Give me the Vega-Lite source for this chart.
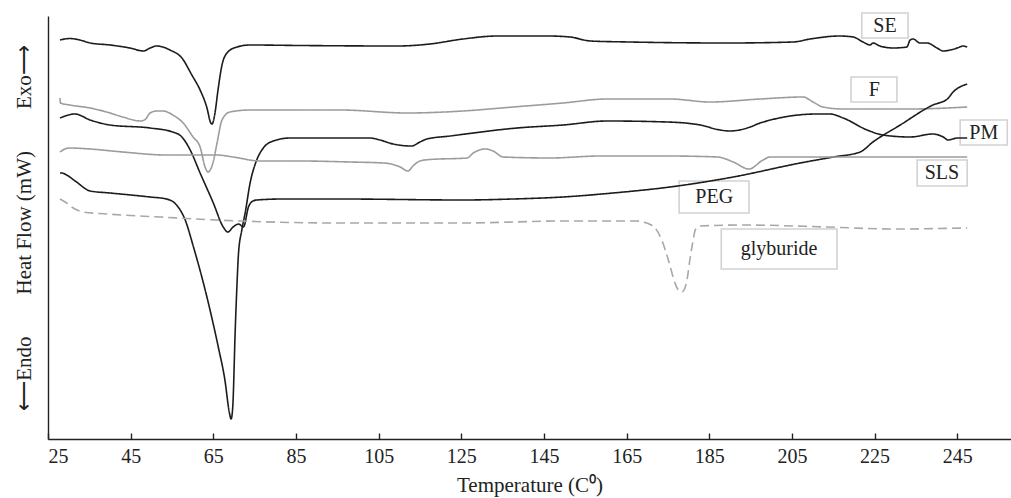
{
  "$schema": "https://vega.github.io/schema/vega-lite/v6.json",
  "width": 963,
  "height": 423,
  "autosize": "none",
  "padding": {"left": 48, "top": 16, "right": 0, "bottom": 59},
  "background": "white",
  "config": {"view": {"stroke": null}, "font": "Liberation Serif"},
  "datasets": {
    "curves": [
      {"s":"SE","t":27.9,"h":39.9},{"s":"SE","t":30.3,"h":40.05},{"s":"SE","t":32.7,"h":39.9},{"s":"SE","t":35.2,"h":39.6},{"s":"SE","t":40.0,"h":39.4},{"s":"SE","t":44.8,"h":39.1},{"s":"SE","t":48.1,"h":38.8},{"s":"SE","t":49.7,"h":39.1},{"s":"SE","t":51.3,"h":39.3},{"s":"SE","t":52.8,"h":39.2},{"s":"SE","t":54.5,"h":38.9},{"s":"SE","t":57.4,"h":38.1},{"s":"SE","t":59.8,"h":36.4},{"s":"SE","t":61.8,"h":34.9},{"s":"SE","t":63.4,"h":33.2},{"s":"SE","t":64.4,"h":31.6},{"s":"SE","t":64.7,"h":31.5},{"s":"SE","t":65.4,"h":32.6},{"s":"SE","t":66.1,"h":34.8},{"s":"SE","t":67.1,"h":37.4},{"s":"SE","t":68.3,"h":38.6},{"s":"SE","t":70.7,"h":39.2},{"s":"SE","t":73.9,"h":39.4},{"s":"SE","t":86.0,"h":39.35},{"s":"SE","t":109.5,"h":39.3},{"s":"SE","t":117.4,"h":39.5},{"s":"SE","t":125.4,"h":40.0},{"s":"SE","t":133.7,"h":40.3},{"s":"SE","t":145.8,"h":40.3},{"s":"SE","t":151.3,"h":40.2},{"s":"SE","t":156.2,"h":39.8},{"s":"SE","t":165.8,"h":39.7},{"s":"SE","t":189.3,"h":39.6},{"s":"SE","t":205.3,"h":39.7},{"s":"SE","t":209.4,"h":40.0},{"s":"SE","t":216.6,"h":40.3},{"s":"SE","t":219.8,"h":40.2},{"s":"SE","t":222.2,"h":39.7},{"s":"SE","t":223.9,"h":39.4},{"s":"SE","t":224.6,"h":39.6},{"s":"SE","t":226.3,"h":39.3},{"s":"SE","t":229.5,"h":39.1},{"s":"SE","t":232.8,"h":39.2},{"s":"SE","t":233.6,"h":39.9},{"s":"SE","t":234.3,"h":40.0},{"s":"SE","t":236.0,"h":39.6},{"s":"SE","t":237.7,"h":39.6},{"s":"SE","t":240.1,"h":39.1},{"s":"SE","t":241.6,"h":38.8},{"s":"SE","t":243.3,"h":38.9},{"s":"SE","t":245.0,"h":39.1},{"s":"SE","t":246.4,"h":39.3},{"s":"SE","t":247.4,"h":39.2},

      {"s":"F","t":27.9,"h":34.1},{"s":"F","t":28.0,"h":33.6},{"s":"F","t":30.3,"h":33.4},{"s":"F","t":35.2,"h":33.1},{"s":"F","t":39.2,"h":32.7},{"s":"F","t":43.1,"h":32.2},{"s":"F","t":47.3,"h":31.8},{"s":"F","t":48.0,"h":31.85},{"s":"F","t":48.5,"h":31.95},{"s":"F","t":49.7,"h":32.6},{"s":"F","t":51.3,"h":32.8},{"s":"F","t":52.8,"h":32.8},{"s":"F","t":55.2,"h":32.4},{"s":"F","t":57.7,"h":31.6},{"s":"F","t":60.1,"h":30.2},{"s":"F","t":61.8,"h":29.2},{"s":"F","t":63.0,"h":27.2},{"s":"F","t":63.7,"h":26.7},{"s":"F","t":64.9,"h":27.6},{"s":"F","t":65.9,"h":29.6},{"s":"F","t":67.1,"h":31.9},{"s":"F","t":69.0,"h":32.7},{"s":"F","t":73.9,"h":32.9},{"s":"F","t":95.7,"h":32.9},{"s":"F","t":111.9,"h":32.6},{"s":"F","t":125.4,"h":32.8},{"s":"F","t":137.5,"h":33.2},{"s":"F","t":149.6,"h":33.6},{"s":"F","t":160.3,"h":34.0},{"s":"F","t":170.0,"h":34.0},{"s":"F","t":175.5,"h":34.0},{"s":"F","t":185.2,"h":33.7},{"s":"F","t":197.3,"h":34.0},{"s":"F","t":207.7,"h":34.2},{"s":"F","t":210.1,"h":33.7},{"s":"F","t":212.5,"h":33.2},{"s":"F","t":217.4,"h":33.0},{"s":"F","t":233.6,"h":33.0},{"s":"F","t":247.4,"h":33.2},

      {"s":"PEG","t":27.9,"h":32.1},{"s":"PEG","t":31.5,"h":32.5},{"s":"PEG","t":35.2,"h":31.9},{"s":"PEG","t":40.0,"h":31.4},{"s":"PEG","t":49.7,"h":31.1},{"s":"PEG","t":55.2,"h":30.7},{"s":"PEG","t":57.4,"h":30.2},{"s":"PEG","t":59.4,"h":28.9},{"s":"PEG","t":61.8,"h":26.6},{"s":"PEG","t":65.0,"h":23.6},{"s":"PEG","t":67.4,"h":21.2},{"s":"PEG","t":68.5,"h":20.7},{"s":"PEG","t":69.8,"h":21.2},{"s":"PEG","t":71.1,"h":21.5},{"s":"PEG","t":72.3,"h":21.2},{"s":"PEG","t":73.5,"h":23.2},{"s":"PEG","t":74.6,"h":23.8},{"s":"PEG","t":75.5,"h":23.9},{"s":"PEG","t":81.9,"h":24.0},{"s":"PEG","t":95.7,"h":24.0},{"s":"PEG","t":125.4,"h":23.9},{"s":"PEG","t":137.5,"h":24.0},{"s":"PEG","t":149.6,"h":24.2},{"s":"PEG","t":161.7,"h":24.6},{"s":"PEG","t":175.5,"h":25.2},{"s":"PEG","t":190.8,"h":26.2},{"s":"PEG","t":207.0,"h":27.6},{"s":"PEG","t":215.0,"h":28.2},{"s":"PEG","t":221.5,"h":28.7},{"s":"PEG","t":224.6,"h":29.7},{"s":"PEG","t":231.2,"h":31.4},{"s":"PEG","t":239.1,"h":33.4},{"s":"PEG","t":242.6,"h":34.0},{"s":"PEG","t":244.0,"h":34.7},{"s":"PEG","t":247.4,"h":35.5},

      {"s":"PM","t":27.9,"h":26.6},{"s":"PM","t":28.3,"h":26.6},{"s":"PM","t":29.5,"h":26.4},{"s":"PM","t":31.9,"h":25.7},{"s":"PM","t":35.2,"h":24.8},{"s":"PM","t":40.0,"h":24.6},{"s":"PM","t":49.7,"h":24.2},{"s":"PM","t":53.7,"h":24.0},{"s":"PM","t":56.1,"h":23.4},{"s":"PM","t":58.2,"h":21.9},{"s":"PM","t":60.2,"h":19.2},{"s":"PM","t":62.6,"h":15.6},{"s":"PM","t":64.6,"h":12.2},{"s":"PM","t":66.2,"h":9.2},{"s":"PM","t":67.8,"h":5.9},{"s":"PM","t":68.9,"h":2.6},{"s":"PM","t":69.3,"h":2.0},{"s":"PM","t":69.7,"h":3.2},{"s":"PM","t":70.3,"h":10.9},{"s":"PM","t":70.7,"h":15.2},{"s":"PM","t":71.1,"h":18.6},{"s":"PM","t":71.9,"h":20.9},{"s":"PM","t":72.7,"h":22.6},{"s":"PM","t":73.9,"h":25.6},{"s":"PM","t":75.5,"h":27.9},{"s":"PM","t":77.1,"h":29.1},{"s":"PM","t":79.5,"h":29.8},{"s":"PM","t":83.6,"h":30.1},{"s":"PM","t":93.2,"h":30.1},{"s":"PM","t":102.9,"h":30.1},{"s":"PM","t":105.3,"h":29.9},{"s":"PM","t":108.5,"h":29.5},{"s":"PM","t":113.0,"h":29.3},{"s":"PM","t":115.0,"h":29.7},{"s":"PM","t":116.7,"h":30.0},{"s":"PM","t":122.3,"h":30.3},{"s":"PM","t":138.5,"h":31.1},{"s":"PM","t":149.6,"h":31.4},{"s":"PM","t":160.3,"h":31.8},{"s":"PM","t":174.8,"h":31.7},{"s":"PM","t":182.8,"h":31.4},{"s":"PM","t":187.6,"h":30.9},{"s":"PM","t":190.0,"h":30.8},{"s":"PM","t":194.9,"h":31.2},{"s":"PM","t":197.3,"h":31.6},{"s":"PM","t":211.1,"h":32.5},{"s":"PM","t":214.2,"h":32.5},{"s":"PM","t":217.4,"h":32.1},{"s":"PM","t":223.2,"h":30.9},{"s":"PM","t":227.0,"h":30.4},{"s":"PM","t":233.6,"h":30.2},{"s":"PM","t":239.1,"h":30.5},{"s":"PM","t":241.6,"h":30.2},{"s":"PM","t":242.8,"h":29.9},{"s":"PM","t":245.0,"h":30.1},{"s":"PM","t":247.4,"h":30.1},

      {"s":"SLS","t":27.9,"h":28.7},{"s":"SLS","t":28.6,"h":28.9},{"s":"SLS","t":30.3,"h":29.1},{"s":"SLS","t":35.2,"h":29.0},{"s":"SLS","t":43.1,"h":28.7},{"s":"SLS","t":53.7,"h":28.4},{"s":"SLS","t":65.8,"h":28.4},{"s":"SLS","t":69.8,"h":28.2},{"s":"SLS","t":76.3,"h":27.8},{"s":"SLS","t":86.0,"h":27.8},{"s":"SLS","t":98.1,"h":27.7},{"s":"SLS","t":106.1,"h":27.6},{"s":"SLS","t":108.5,"h":27.45},{"s":"SLS","t":110.2,"h":27.2},{"s":"SLS","t":112.1,"h":26.8},{"s":"SLS","t":113.3,"h":27.3},{"s":"SLS","t":115.0,"h":27.8},{"s":"SLS","t":117.4,"h":27.95},{"s":"SLS","t":126.4,"h":28.1},{"s":"SLS","t":127.9,"h":28.6},{"s":"SLS","t":128.8,"h":28.8},{"s":"SLS","t":130.8,"h":29.0},{"s":"SLS","t":132.7,"h":28.8},{"s":"SLS","t":135.1,"h":28.2},{"s":"SLS","t":146.5,"h":28.1},{"s":"SLS","t":158.6,"h":28.3},{"s":"SLS","t":174.8,"h":28.3},{"s":"SLS","t":186.9,"h":28.2},{"s":"SLS","t":190.8,"h":27.7},{"s":"SLS","t":194.6,"h":27.0},{"s":"SLS","t":198.0,"h":27.9},{"s":"SLS","t":199.7,"h":28.2},{"s":"SLS","t":207.0,"h":28.2},{"s":"SLS","t":247.4,"h":28.2},

      {"s":"glyburide","t":27.9,"h":24.0},{"s":"glyburide","t":29.5,"h":23.6},{"s":"glyburide","t":31.1,"h":23.1},{"s":"glyburide","t":33.5,"h":22.7},{"s":"glyburide","t":39.2,"h":22.5},{"s":"glyburide","t":52.1,"h":22.2},{"s":"glyburide","t":71.5,"h":21.8},{"s":"glyburide","t":95.7,"h":21.6},{"s":"glyburide","t":125.4,"h":21.6},{"s":"glyburide","t":149.6,"h":21.8},{"s":"glyburide","t":167.5,"h":21.8},{"s":"glyburide","t":169.0,"h":21.7},{"s":"glyburide","t":170.7,"h":21.45},{"s":"glyburide","t":171.9,"h":21.1},{"s":"glyburide","t":173.5,"h":19.9},{"s":"glyburide","t":175.1,"h":17.9},{"s":"glyburide","t":176.7,"h":15.6},{"s":"glyburide","t":177.5,"h":14.9},{"s":"glyburide","t":178.4,"h":14.7},{"s":"glyburide","t":179.1,"h":15.1},{"s":"glyburide","t":179.6,"h":15.9},{"s":"glyburide","t":180.4,"h":18.2},{"s":"glyburide","t":181.1,"h":19.9},{"s":"glyburide","t":181.6,"h":20.9},{"s":"glyburide","t":182.8,"h":21.3},{"s":"glyburide","t":193.2,"h":21.4},{"s":"glyburide","t":213.5,"h":21.2},{"s":"glyburide","t":229.5,"h":21.0},{"s":"glyburide","t":247.4,"h":21.1}
    ],
    "labels": [
      {"label":"SE","t":227.5,"h":41.3,"t1":221.9,"t2":233.1,"h1":40.1,"h2":42.6},
      {"label":"F","t":224.9,"h":34.95,"t1":219.3,"t2":230.4,"h1":33.7,"h2":36.2},
      {"label":"PM","t":251.4,"h":30.65,"t1":245.7,"t2":257.1,"h1":29.4,"h2":31.9},
      {"label":"SLS","t":241.3,"h":26.6,"t1":235.3,"t2":247.4,"h1":25.3,"h2":27.9},
      {"label":"PEG","t":186.2,"h":24.2,"t1":177.7,"t2":194.6,"h1":22.6,"h2":25.8},
      {"label":"glyburide","t":201.9,"h":19.0,"t1":187.9,"t2":215.9,"h1":17.0,"h2":21.0}
    ]
  },
  "layer": [
    {
      "data": {"name": "labels"},
      "mark": {"type": "rect", "fill": null, "stroke": "#d2d2d2", "strokeWidth": 1.6},
      "encoding": {
        "x": {"field": "t1", "type": "quantitative", "scale": {"domain": [25, 258], "nice": false, "zero": false}},
        "x2": {"field": "t2"},
        "y": {"field": "h1", "type": "quantitative", "scale": {"domain": [0, 42.3], "nice": false, "zero": false}},
        "y2": {"field": "h2"}
      }
    },
    {
      "data": {"name": "curves"},
      "mark": {"type": "line", "strokeWidth": 1.6, "interpolate": "monotone"},
      "encoding": {
        "x": {
          "field": "t", "type": "quantitative",
          "scale": {"domain": [25, 258], "nice": false, "zero": false},
          "axis": {
            "values": [25, 45, 65, 85, 105, 125, 145, 165, 185, 205, 225, 245],
            "title": "Temperature (C⁰)",
            "grid": false,
            "domainColor": "#222", "domainWidth": 1.4,
            "tickColor": "#222", "tickWidth": 1.4, "tickSize": -6,
            "labelPadding": 13,
            "labelFont": "Liberation Serif", "labelFontSize": 20, "labelColor": "#222",
            "titleFont": "Liberation Serif", "titleFontSize": 21, "titleFontWeight": "normal", "titleColor": "#222",
            "titlePadding": 8
          }
        },
        "y": {
          "field": "h", "type": "quantitative",
          "scale": {"domain": [0, 42.3], "nice": false, "zero": false},
          "axis": {
            "title": "⟵Endo\u2002\u2002\u2002\u2002Heat Flow (mW)\u2002\u2002\u2002\u2002Exo⟶",
            "grid": false, "ticks": false, "labels": false,
            "domainColor": "#222", "domainWidth": 1.4,
            "titleFont": "Liberation Serif", "titleFontSize": 21, "titleFontWeight": "normal", "titleColor": "#222",
            "titlePadding": 14
          }
        },
        "detail": {"field": "s"},
        "color": {
          "field": "s", "type": "nominal", "legend": null,
          "scale": {"domain": ["SE", "F", "PEG", "PM", "SLS", "glyburide"], "range": ["#1c1c1c", "#9c9c9c", "#1c1c1c", "#1c1c1c", "#9c9c9c", "#a8a8a8"]}
        },
        "strokeDash": {
          "field": "s", "type": "nominal", "legend": null,
          "scale": {"domain": ["SE", "F", "PEG", "PM", "SLS", "glyburide"], "range": [[1, 0], [1, 0], [1, 0], [1, 0], [1, 0], [9, 5]]}
        }
      }
    },
    {
      "data": {"name": "labels"},
      "mark": {"type": "text", "font": "Liberation Serif", "fontSize": 20, "color": "#222", "align": "center", "baseline": "middle"},
      "encoding": {
        "x": {"field": "t", "type": "quantitative"},
        "y": {"field": "h", "type": "quantitative"},
        "text": {"field": "label"}
      }
    }
  ]
}
